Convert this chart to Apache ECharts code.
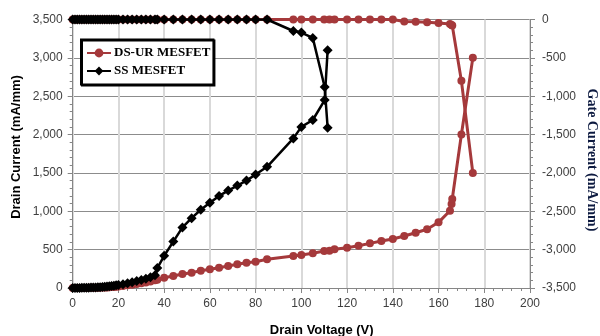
<!DOCTYPE html>
<html>
<head>
<meta charset="utf-8">
<script src="https://cdn.jsdelivr.net/npm/echarts@6/dist/echarts.min.js"></script>
<style>
html,body{margin:0;padding:0;background:#fff;}
#chart{width:600px;height:336px;}
</style>
</head>
<body>
<div id="chart"></div>
<script>
// ---- Data ----
const seriesNames = ['DS-UR MESFET', 'SS MESFET'];
const xTicks = [0, 20, 40, 60, 80, 100, 120, 140, 160, 180, 200];

// DS-UR MESFET (red)
const dsurVoltage = [0,1,2,3,4,5,6,7,8,9,10,11,12,13,14,15,16,17,18,19,20,22,24,26,28,30,32,34,36,37,40,44,48,52,56,60,64,68,72,76,80,85,96.5,100,105,110,112.3,114.5,120,125,130,135,140,145,150,155,160,165,165.7,166,170,175];
const dsurDrain   = [0,0,0,0,1,1,1,2,2,2,3,4,5,6,7,8,10,12,14,17,20,27,35,43,52,62,73,85,100,108,134,156,182,200,226,244,265,287,309,330,343,374,417,430,452,482,485,504,525,551,582,613,639,678,721,765,856,1007,1095,1160,2000,3000];
const dsurGate    = [0,0,0,0,0,0,0,0,0,0,0,0,0,0,0,0,0,0,0,0,0,0,0,0,0,0,0,0,0,0,0,0,0,0,0,0,0,0,0,0,0,0,0,0,0,0,0,0,0,0,0,0,0,-25,-30,-35,-45,-60,-72,-78,-800,-2000];

// SS MESFET (black)
const ssVoltage = [0,1,2,3,4,5,6,7,8,9,10,11,12,13,14,15,16,17,18,19,20,22,24,26,28,30,32,34,36,37,40,44,48,52,56,60,64,68,72,76,80,85,96.5,100,105,110.2,111.5];
const ssDrain   = [0,0,1,1,2,2,3,4,5,6,7,9,11,13,16,19,22,26,30,35,40,50,62,75,90,105,120,140,165,260,420,605,790,910,1020,1110,1200,1270,1335,1400,1480,1580,1950,2100,2190,2450,3100];
const ssGate    = [0,0,0,0,0,0,0,0,0,0,0,0,0,0,0,0,0,0,0,0,0,0,0,0,0,0,0,0,0,0,0,0,0,0,0,0,0,0,0,0,0,0,-150,-170,-240,-880,-1410];

const leftTicks = [0, 500, 1000, 1500, 2000, 2500, 3000, 3500];
const rightTicks = [-3500, -3000, -2500, -2000, -1500, -1000, -500, 0];

const RED = '#a5393b';
const BLACK = '#000000';

const pairs = (xs, ys) => xs.map((x, i) => [x, ys[i]]);
const fmt = v => v.toLocaleString('en-US');

const chart = echarts.init(document.getElementById('chart'), null, {renderer: 'canvas'});

const labelStyle = {color: '#404040', fontSize: 12, fontFamily: 'Liberation Sans'};

chart.setOption({
  animation: false,
  backgroundColor: '#ffffff',
  grid: {left: 72.7, right: 70, top: 19.5, bottom: 48, containLabel: false},
  legend: {
    data: seriesNames,
    orient: 'vertical',
    left: 81, top: 39.5,
    padding: [7, 3, 7, 5],
    itemWidth: 24, itemHeight: 11, itemGap: 5,
    backgroundColor: '#ffffff',
    borderColor: '#000000', borderWidth: 2,
    shadowColor: '#000000', shadowBlur: 0, shadowOffsetX: 1, shadowOffsetY: 1,
    textStyle: {fontFamily: 'Liberation Serif', fontWeight: 'bold', fontSize: 13, color: '#000', padding: [0,0,0,-2]}
  },
  xAxis: {
    type: 'value', min: xTicks[0], max: xTicks[xTicks.length - 1], interval: 20,
    axisLine: {show: true, lineStyle: {color: '#868686', width: 1}},
    axisTick: {show: true, length: 5, lineStyle: {color: '#868686'}},
    minorTick: {show: true, splitNumber: 5, length: 3, lineStyle: {color: '#868686'}},
    splitLine: {show: true, lineStyle: {color: '#d9d9d9', width: 2}},
    axisLabel: Object.assign({margin: 10, formatter: v => String(v)}, labelStyle)
  },
  yAxis: [
    {
      type: 'value', min: leftTicks[0], max: leftTicks[leftTicks.length - 1], interval: 500, position: 'left',
      axisLine: {show: true, lineStyle: {color: '#868686'}},
      axisTick: {show: true, length: 5, lineStyle: {color: '#868686'}},
      minorTick: {show: true, splitNumber: 5, length: 3, lineStyle: {color: '#868686'}},
      splitLine: {show: true, lineStyle: {color: '#8c8c8c', width: 1}},
      axisLabel: Object.assign({margin: 10, formatter: fmt}, labelStyle)
    },
    {
      type: 'value', min: rightTicks[0], max: rightTicks[rightTicks.length - 1], interval: 500, position: 'right',
      axisLine: {show: true, lineStyle: {color: '#868686'}},
      axisTick: {show: true, length: 5, lineStyle: {color: '#868686'}},
      minorTick: {show: true, splitNumber: 5, length: 3, lineStyle: {color: '#868686'}},
      splitLine: {show: false},
      axisLabel: Object.assign({margin: 12, formatter: fmt}, labelStyle)
    }
  ],
  graphic: [
    {type: 'text', x: 16, y: 147, rotation: Math.PI / 2,
     style: {text: 'Drain Current (mA/mm)', font: 'bold 13px "Liberation Sans"', fill: '#000', textAlign: 'center', textVerticalAlign: 'middle'}},
    {type: 'text', x: 591.5, y: 160, rotation: -Math.PI / 2,
     style: {text: 'Gate Current (mA/mm)', font: 'bold 14px "Liberation Serif"', fill: '#0d1a40', textAlign: 'center', textVerticalAlign: 'middle'}},
    {type: 'text', x: 321.7, y: 330, 
     style: {text: 'Drain Voltage (V)', font: 'bold 13px "Liberation Sans"', fill: '#000', textAlign: 'center', textVerticalAlign: 'middle'}}
  ],
  series: [
    {name: seriesNames[0], type: 'line', yAxisIndex: 0, data: pairs(dsurVoltage, dsurDrain),
     symbol: 'circle', symbolSize: 8, color: RED, lineStyle: {width: 3, color: RED}, itemStyle: {color: RED}, z: 2},
    {name: seriesNames[0], type: 'line', yAxisIndex: 1, data: pairs(dsurVoltage, dsurGate),
     symbol: 'circle', symbolSize: 8, color: RED, lineStyle: {width: 3, color: RED}, itemStyle: {color: RED}, z: 2},
    {name: seriesNames[1], type: 'line', yAxisIndex: 0, data: pairs(ssVoltage, ssDrain),
     symbol: 'diamond', symbolSize: 10, color: BLACK, lineStyle: {width: 2.5, color: BLACK}, itemStyle: {color: BLACK}, z: 3},
    {name: seriesNames[1], type: 'line', yAxisIndex: 1, data: pairs(ssVoltage, ssGate),
     symbol: 'diamond', symbolSize: 10, color: BLACK, lineStyle: {width: 2.5, color: BLACK}, itemStyle: {color: BLACK}, z: 3}
  ]
});
</script>
</body>
</html>
